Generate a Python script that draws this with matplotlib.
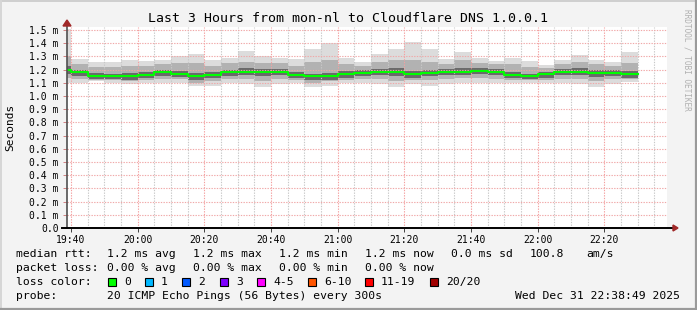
import numpy as np
import matplotlib
matplotlib.use("Agg")
import matplotlib.pyplot as plt
from matplotlib.lines import Line2D
from matplotlib.patches import Polygon, Rectangle

plt.rcParams['font.family'] = 'DejaVu Sans Mono'

# --- data: one smoke column per 5 minute step (minutes after 19:00) ---
edges = [35 + 5 * i for i in range(36)]   # 19:35 ... 22:35

median = [1.20, 1.18, 1.15, 1.15, 1.15, 1.16, 1.18, 1.17, 1.15, 1.16,
          1.18, 1.185, 1.185, 1.185, 1.16, 1.15, 1.15, 1.165, 1.175, 1.185,
          1.185, 1.165, 1.175, 1.185, 1.185, 1.19, 1.185, 1.16, 1.15, 1.165,
          1.185, 1.185, 1.175, 1.175, 1.165]
hi = [1.51, 1.28, 1.26, 1.26, 1.27, 1.265, 1.27, 1.30, 1.32, 1.27,
      1.29, 1.34, 1.30, 1.29, 1.28, 1.355, 1.40, 1.29, 1.26, 1.32,
      1.355, 1.41, 1.355, 1.28, 1.33, 1.29, 1.265, 1.29, 1.265, 1.235,
      1.27, 1.31, 1.27, 1.26, 1.335]
lo = [1.10, 1.10, 1.11, 1.10, 1.09, 1.10, 1.10, 1.10, 1.075, 1.075,
      1.10, 1.09, 1.065, 1.09, 1.10, 1.065, 1.075, 1.10, 1.10, 1.09,
      1.065, 1.09, 1.075, 1.09, 1.10, 1.10, 1.10, 1.10, 1.10, 1.10,
      1.10, 1.09, 1.065, 1.09, 1.105]
hi2 = [1.30, 1.24, 1.22, 1.22, 1.23, 1.23, 1.24, 1.25, 1.25, 1.23,
       1.25, 1.26, 1.25, 1.25, 1.23, 1.26, 1.27, 1.24, 1.23, 1.26,
       1.27, 1.27, 1.26, 1.24, 1.27, 1.25, 1.24, 1.24, 1.22, 1.21,
       1.24, 1.26, 1.24, 1.23, 1.25]
lo2 = [1.14, 1.13, 1.12, 1.12, 1.11, 1.12, 1.13, 1.13, 1.10, 1.11,
       1.13, 1.13, 1.11, 1.13, 1.12, 1.10, 1.11, 1.12, 1.13, 1.13,
       1.11, 1.12, 1.12, 1.13, 1.14, 1.14, 1.13, 1.12, 1.12, 1.12,
       1.13, 1.13, 1.11, 1.13, 1.13]
hi3 = [1.23, 1.20, 1.175, 1.17, 1.175, 1.18, 1.20, 1.19, 1.175, 1.18,
       1.20, 1.21, 1.205, 1.205, 1.18, 1.17, 1.175, 1.19, 1.195, 1.205,
       1.21, 1.19, 1.20, 1.205, 1.21, 1.21, 1.205, 1.18, 1.17, 1.185,
       1.205, 1.21, 1.195, 1.195, 1.19]
lo3 = [1.17, 1.155, 1.13, 1.13, 1.125, 1.135, 1.155, 1.145, 1.125, 1.135,
       1.155, 1.16, 1.155, 1.16, 1.135, 1.12, 1.125, 1.14, 1.15, 1.16,
       1.15, 1.14, 1.15, 1.16, 1.16, 1.165, 1.16, 1.135, 1.13, 1.14,
       1.16, 1.16, 1.145, 1.15, 1.14]

xtick_pos = [40, 60, 80, 100, 120, 140, 160, 180, 200]
xtick_lab = ['19:40', '20:00', '20:20', '20:40', '21:00', '21:20', '21:40', '22:00', '22:20']
ytick_pos = [i / 10 for i in range(16)]
ytick_lab = ['0.0'] + ['%.1f m' % v for v in ytick_pos[1:]]

loss_labels = ['0', '1', '2', '3', '4-5', '6-10', '11-19', '20/20']
loss_colors = ['#00ff00', '#00b8ff', '#0059ff', '#7e00ff', '#ff00ff', '#ff5500', '#ff0000', '#a10000']

W, H = 697, 310
fig = plt.figure(figsize=(W / 100, H / 100), dpi=100, facecolor='#f3f3f3')

def fx(px):
    return px / W

def fy(py):
    return 1 - py / H

# --- plot area ---
L, R, T, B = 67, 667, 27, 228
ax = fig.add_axes([fx(L), fy(B), fx(R - L), (B - T) / H])
ax.set_facecolor('white')
ax.set_xlim(38.82, 218.82)
ax.set_ylim(0, (B - T) / 132)

# smoke
ax.stairs(hi, edges, baseline=lo, fill=True, color='#dcdcdc', zorder=1)
ax.stairs(hi2, edges, baseline=lo2, fill=True, color='#b2b2b2', zorder=1.1)
ax.stairs(hi3, edges, baseline=lo3, fill=True, color='#6a6a6a', zorder=1.2)
ax.step(edges, median + [median[-1]], where='post', color='#00ff00', lw=1.5, zorder=4)

# grid
ax.set_xticks(xtick_pos)
ax.set_xticks(np.arange(40, 220, 5), minor=True)
ax.set_yticks(ytick_pos)
ax.set_xticklabels(xtick_lab)
ax.set_yticklabels(ytick_lab)
ax.set_axisbelow(False)
ax.grid(which='minor', axis='x', color='#c8c8c8', lw=0.8, ls=(0, (1.2, 1.2)), zorder=2)
ax.grid(which='major', axis='x', color='#f4a0a0', lw=0.8, ls=(0, (1.2, 1.2)), zorder=2.1)
ax.grid(which='major', axis='y', color='#f0a8a8', lw=0.8, ls=(0, (1.2, 1.2)), zorder=2.1)

ax.tick_params(axis='both', which='both', labelsize=7, colors='#000000')
ax.tick_params(axis='y', length=3, width=0.7, color='#d08080', pad=3)
ax.tick_params(axis='x', which='major', length=3, width=0.7, color='#404040', pad=2)
ax.tick_params(axis='x', which='minor', length=0)
for s in ax.spines.values():
    s.set_visible(False)

# axis lines with arrows
ax.add_line(Line2D([0, 0], [0, 1.02], transform=ax.transAxes, color='#505050', lw=1.2, clip_on=False, zorder=5))
ax.add_line(Line2D([-0.008, 1.012], [0, 0], transform=ax.transAxes, color='#000000', lw=1.4, clip_on=False, zorder=5))
fig.patches.append(Polygon([[fx(63), fy(26)], [fx(71), fy(26)], [fx(67), fy(20)]],
                           closed=True, transform=fig.transFigure, color='#a02828', zorder=6))
fig.patches.append(Polygon([[fx(673), fy(225)], [fx(673), fy(231)], [fx(678), fy(228)]],
                           closed=True, transform=fig.transFigure, color='#a02828', zorder=6))

# titles
fig.text(fx(348), fy(18), 'Last 3 Hours from mon-nl to Cloudflare DNS 1.0.0.1',
         ha='center', va='center', fontsize=9.5)
fig.text(fx(10), fy(127), 'Seconds', rotation=90, ha='center', va='center', fontsize=8)
fig.text(fx(687), fy(60), 'RRDTOOL / TOBI OETIKER', rotation=270, ha='center', va='center',
         fontsize=5.6, color='#b0b0b0')

# legend rows
fs = 8.2
rows = [254, 268, 282, 296]
fig.text(fx(16), fy(rows[0]), 'median rtt:', va='center', fontsize=fs)
for x, s in zip([107, 193, 279, 365, 451, 530, 586],
                ['1.2 ms avg', '1.2 ms max', '1.2 ms min', '1.2 ms now', '0.0 ms sd', '100.8', 'am/s']):
    fig.text(fx(x), fy(rows[0]), s, va='center', fontsize=fs)
fig.text(fx(16), fy(rows[1]), 'packet loss:', va='center', fontsize=fs)
for x, s in zip([107, 193, 279, 365], ['0.00 % avg', '0.00 % max', '0.00 % min', '0.00 % now']):
    fig.text(fx(x), fy(rows[1]), s, va='center', fontsize=fs)
fig.text(fx(16), fy(rows[2]), 'loss color:', va='center', fontsize=fs)
box_x = [108, 145, 182, 220, 257, 308, 365, 430]
for bx, lab, c in zip(box_x, loss_labels, loss_colors):
    fig.patches.append(Rectangle((fx(bx), fy(rows[2] + 4)), fx(8), 8 / H, transform=fig.transFigure,
                                 facecolor=c, edgecolor='black', lw=0.8))
    fig.text(fx(bx + 16), fy(rows[2]), lab, va='center', fontsize=fs)
fig.text(fx(16), fy(rows[3]), 'probe:', va='center', fontsize=fs)
fig.text(fx(107), fy(rows[3]), '20 ICMP Echo Pings (56 Bytes) every 300s', va='center', fontsize=fs)
fig.text(fx(680), fy(rows[3]), 'Wed Dec 31 22:38:49 2025', ha='right', va='center', fontsize=fs)

# frame around the image
fig.add_artist(Line2D([0, 1], [fy(0.7), fy(0.7)], color='#cfcfcf', lw=1.4))
fig.add_artist(Line2D([fx(0.7), fx(0.7)], [0, 1], color='#d6d6d6', lw=1.4))
fig.add_artist(Line2D([0, 1], [fy(H - 1), fy(H - 1)], color='#9a9a9a', lw=1.6))
fig.add_artist(Line2D([fx(W - 1), fx(W - 1)], [0, 1], color='#9a9a9a', lw=1.6))

fig.savefig('out.png', dpi=100, facecolor=fig.get_facecolor())
